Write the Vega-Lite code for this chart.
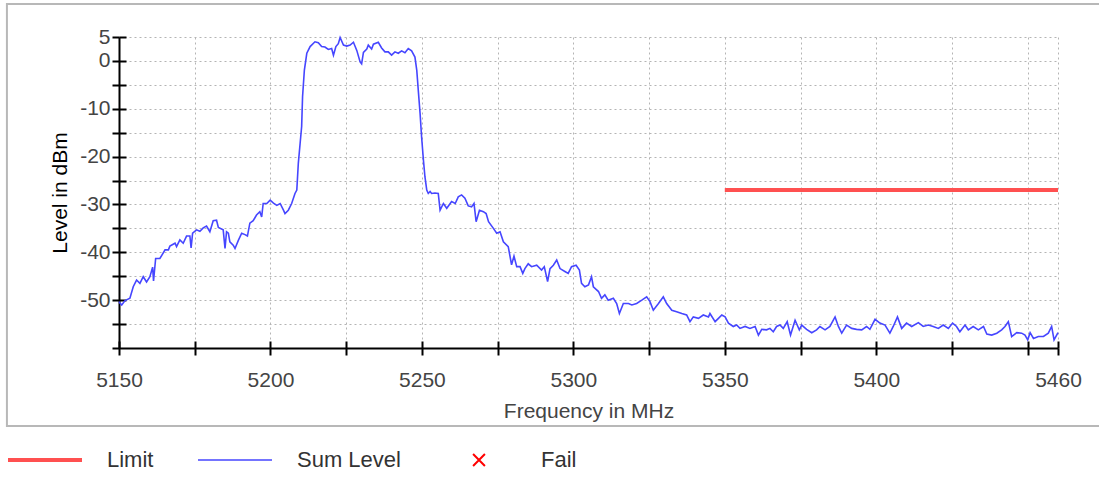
{
  "$schema": "https://vega.github.io/schema/vega-lite/v6.json",
  "width": 939,
  "height": 311,
  "autosize": {"type": "none"},
  "padding": {"left": 119, "top": 37, "right": 41, "bottom": 129},
  "background": "white",
  "config": {
    "view": {"stroke": null},
    "font": "Liberation Sans",
    "axis": {"labelFont": "Liberation Sans", "titleFont": "Liberation Sans"}
  },
  "datasets": {
    "trace": [
      {"f":5150.0,"dB":-50.3},{"f":5150.3,"dB":-50.6},{"f":5150.9,"dB":-51.0},{"f":5152.0,"dB":-50.1},{"f":5153.6,"dB":-49.6},{"f":5154.7,"dB":-47.2},{"f":5155.8,"dB":-45.8},{"f":5156.9,"dB":-46.5},{"f":5158.0,"dB":-45.1},{"f":5159.1,"dB":-46.2},{"f":5160.2,"dB":-45.1},{"f":5161.1,"dB":-43.1},{"f":5161.4,"dB":-46.0},{"f":5162.1,"dB":-41.3},{"f":5163.5,"dB":-41.3},{"f":5165.2,"dB":-39.5},{"f":5166.3,"dB":-39.5},{"f":5166.8,"dB":-38.7},{"f":5168.5,"dB":-38.1},{"f":5169.0,"dB":-38.8},{"f":5170.1,"dB":-37.4},{"f":5171.2,"dB":-38.1},{"f":5172.3,"dB":-36.6},{"f":5173.4,"dB":-36.6},{"f":5173.8,"dB":-39.1},{"f":5174.3,"dB":-36.0},{"f":5175.6,"dB":-35.3},{"f":5176.7,"dB":-35.6},{"f":5177.8,"dB":-34.9},{"f":5178.9,"dB":-34.5},{"f":5180.0,"dB":-35.7},{"f":5181.1,"dB":-33.4},{"f":5182.2,"dB":-33.3},{"f":5182.8,"dB":-34.8},{"f":5184.4,"dB":-35.3},{"f":5185.0,"dB":-39.2},{"f":5185.5,"dB":-35.7},{"f":5186.1,"dB":-36.0},{"f":5186.6,"dB":-37.8},{"f":5187.7,"dB":-38.5},{"f":5188.3,"dB":-39.2},{"f":5189.4,"dB":-37.5},{"f":5190.5,"dB":-36.0},{"f":5191.6,"dB":-36.3},{"f":5192.4,"dB":-36.6},{"f":5193.2,"dB":-33.9},{"f":5194.3,"dB":-33.4},{"f":5195.4,"dB":-32.2},{"f":5196.5,"dB":-31.5},{"f":5197.1,"dB":-32.6},{"f":5197.6,"dB":-29.8},{"f":5198.8,"dB":-29.8},{"f":5199.9,"dB":-29.1},{"f":5201.0,"dB":-29.7},{"f":5202.1,"dB":-30.2},{"f":5203.2,"dB":-29.8},{"f":5204.3,"dB":-31.2},{"f":5204.8,"dB":-31.9},{"f":5205.9,"dB":-31.2},{"f":5207.0,"dB":-29.8},{"f":5208.1,"dB":-27.7},{"f":5208.7,"dB":-27.0},{"f":5209.2,"dB":-21.4},{"f":5209.8,"dB":-17.2},{"f":5210.3,"dB":-13.7},{"f":5210.6,"dB":-7.5},{"f":5211.2,"dB":-1.9},{"f":5212.0,"dB":1.6},{"f":5213.1,"dB":3.0},{"f":5214.7,"dB":4.0},{"f":5215.8,"dB":3.8},{"f":5216.9,"dB":3.0},{"f":5218.0,"dB":2.9},{"f":5219.1,"dB":2.4},{"f":5220.2,"dB":2.6},{"f":5220.8,"dB":1.2},{"f":5221.6,"dB":3.0},{"f":5222.4,"dB":3.6},{"f":5223.0,"dB":4.9},{"f":5224.1,"dB":3.3},{"f":5225.2,"dB":3.1},{"f":5226.3,"dB":3.3},{"f":5227.4,"dB":3.9},{"f":5228.5,"dB":2.2},{"f":5229.6,"dB":-0.2},{"f":5230.1,"dB":-0.6},{"f":5230.7,"dB":1.8},{"f":5231.8,"dB":2.5},{"f":5232.3,"dB":3.3},{"f":5233.4,"dB":2.5},{"f":5234.0,"dB":3.5},{"f":5235.6,"dB":3.9},{"f":5236.7,"dB":2.7},{"f":5237.8,"dB":1.9},{"f":5238.9,"dB":1.9},{"f":5240.0,"dB":1.2},{"f":5241.1,"dB":1.9},{"f":5242.2,"dB":1.6},{"f":5243.3,"dB":2.1},{"f":5244.4,"dB":1.7},{"f":5245.5,"dB":2.6},{"f":5246.6,"dB":2.1},{"f":5247.7,"dB":0.8},{"f":5248.3,"dB":-1.9},{"f":5248.8,"dB":-6.1},{"f":5249.4,"dB":-11.0},{"f":5249.9,"dB":-15.9},{"f":5250.5,"dB":-20.7},{"f":5251.0,"dB":-24.2},{"f":5251.6,"dB":-27.0},{"f":5252.1,"dB":-27.7},{"f":5252.7,"dB":-27.3},{"f":5253.2,"dB":-27.7},{"f":5254.3,"dB":-27.6},{"f":5255.4,"dB":-27.7},{"f":5256.0,"dB":-31.2},{"f":5257.1,"dB":-29.8},{"f":5258.2,"dB":-30.8},{"f":5259.8,"dB":-29.4},{"f":5261.0,"dB":-29.8},{"f":5262.0,"dB":-28.4},{"f":5263.1,"dB":-28.0},{"f":5264.2,"dB":-28.7},{"f":5265.3,"dB":-30.3},{"f":5266.4,"dB":-30.5},{"f":5267.2,"dB":-29.8},{"f":5267.9,"dB":-33.6},{"f":5269.0,"dB":-31.2},{"f":5270.3,"dB":-31.5},{"f":5271.2,"dB":-31.9},{"f":5272.0,"dB":-33.6},{"f":5273.6,"dB":-35.0},{"f":5274.7,"dB":-36.0},{"f":5275.8,"dB":-35.7},{"f":5276.9,"dB":-37.8},{"f":5278.5,"dB":-38.8},{"f":5279.6,"dB":-42.6},{"f":5280.4,"dB":-40.8},{"f":5281.3,"dB":-43.0},{"f":5282.4,"dB":-43.0},{"f":5283.3,"dB":-44.4},{"f":5284.0,"dB":-43.4},{"f":5285.1,"dB":-42.4},{"f":5286.2,"dB":-43.0},{"f":5287.9,"dB":-42.7},{"f":5289.5,"dB":-43.7},{"f":5290.4,"dB":-43.0},{"f":5291.5,"dB":-46.1},{"f":5292.3,"dB":-43.4},{"f":5293.4,"dB":-42.7},{"f":5294.5,"dB":-41.6},{"f":5295.6,"dB":-43.4},{"f":5297.2,"dB":-44.0},{"f":5298.3,"dB":-44.4},{"f":5299.4,"dB":-43.0},{"f":5300.9,"dB":-42.7},{"f":5302.0,"dB":-43.7},{"f":5302.7,"dB":-46.5},{"f":5303.8,"dB":-47.2},{"f":5305.0,"dB":-46.8},{"f":5306.0,"dB":-45.1},{"f":5306.6,"dB":-47.2},{"f":5308.3,"dB":-48.2},{"f":5309.3,"dB":-49.6},{"f":5310.4,"dB":-48.9},{"f":5311.5,"dB":-50.0},{"f":5313.2,"dB":-49.6},{"f":5314.3,"dB":-50.7},{"f":5315.2,"dB":-52.8},{"f":5316.5,"dB":-50.7},{"f":5318.2,"dB":-50.7},{"f":5319.3,"dB":-51.0},{"f":5320.9,"dB":-50.7},{"f":5322.6,"dB":-50.0},{"f":5324.2,"dB":-49.3},{"f":5325.3,"dB":-50.3},{"f":5326.4,"dB":-52.1},{"f":5328.1,"dB":-50.7},{"f":5329.7,"dB":-49.3},{"f":5330.8,"dB":-50.7},{"f":5332.5,"dB":-52.1},{"f":5334.1,"dB":-52.4},{"f":5335.8,"dB":-52.8},{"f":5337.4,"dB":-53.1},{"f":5338.5,"dB":-54.5},{"f":5339.6,"dB":-53.5},{"f":5341.3,"dB":-53.8},{"f":5342.9,"dB":-53.1},{"f":5344.6,"dB":-53.5},{"f":5345.1,"dB":-52.8},{"f":5346.8,"dB":-54.5},{"f":5347.9,"dB":-53.8},{"f":5349.0,"dB":-53.1},{"f":5350.1,"dB":-53.5},{"f":5351.2,"dB":-54.8},{"f":5352.8,"dB":-55.5},{"f":5353.9,"dB":-55.2},{"f":5355.0,"dB":-55.9},{"f":5356.7,"dB":-55.5},{"f":5358.3,"dB":-55.9},{"f":5360.0,"dB":-55.5},{"f":5361.1,"dB":-57.3},{"f":5362.2,"dB":-56.1},{"f":5363.8,"dB":-56.2},{"f":5364.9,"dB":-55.9},{"f":5366.0,"dB":-56.6},{"f":5367.1,"dB":-55.5},{"f":5368.2,"dB":-55.2},{"f":5369.3,"dB":-55.9},{"f":5370.6,"dB":-54.5},{"f":5371.7,"dB":-57.3},{"f":5373.2,"dB":-54.2},{"f":5374.6,"dB":-56.2},{"f":5375.4,"dB":-55.2},{"f":5377.0,"dB":-56.1},{"f":5378.7,"dB":-56.8},{"f":5380.3,"dB":-56.2},{"f":5381.4,"dB":-55.5},{"f":5383.1,"dB":-56.2},{"f":5384.7,"dB":-55.5},{"f":5386.4,"dB":-53.5},{"f":5387.5,"dB":-55.5},{"f":5388.6,"dB":-56.9},{"f":5390.2,"dB":-55.2},{"f":5391.9,"dB":-55.9},{"f":5393.5,"dB":-56.1},{"f":5395.2,"dB":-56.2},{"f":5396.8,"dB":-55.5},{"f":5397.9,"dB":-56.1},{"f":5399.6,"dB":-54.0},{"f":5401.2,"dB":-54.8},{"f":5402.9,"dB":-55.2},{"f":5404.5,"dB":-56.9},{"f":5405.6,"dB":-55.5},{"f":5407.0,"dB":-53.5},{"f":5408.4,"dB":-55.9},{"f":5410.0,"dB":-54.8},{"f":5411.7,"dB":-55.5},{"f":5413.9,"dB":-54.7},{"f":5415.5,"dB":-55.5},{"f":5417.2,"dB":-55.2},{"f":5418.8,"dB":-55.5},{"f":5420.5,"dB":-55.9},{"f":5422.1,"dB":-55.2},{"f":5423.8,"dB":-55.9},{"f":5425.2,"dB":-54.8},{"f":5426.5,"dB":-55.5},{"f":5427.6,"dB":-56.6},{"f":5429.3,"dB":-55.2},{"f":5430.4,"dB":-56.2},{"f":5432.0,"dB":-55.5},{"f":5433.7,"dB":-56.2},{"f":5435.4,"dB":-55.5},{"f":5436.5,"dB":-57.1},{"f":5438.1,"dB":-57.3},{"f":5439.8,"dB":-56.9},{"f":5441.4,"dB":-56.2},{"f":5442.5,"dB":-55.5},{"f":5443.6,"dB":-54.5},{"f":5444.7,"dB":-57.6},{"f":5446.4,"dB":-56.8},{"f":5448.0,"dB":-56.9},{"f":5449.1,"dB":-57.3},{"f":5450.0,"dB":-58.3},{"f":5450.8,"dB":-56.8},{"f":5451.9,"dB":-58.0},{"f":5453.5,"dB":-57.6},{"f":5455.2,"dB":-57.6},{"f":5456.8,"dB":-56.9},{"f":5457.9,"dB":-55.5},{"f":5458.7,"dB":-58.3},{"f":5460.0,"dB":-56.8}
    ],
    "limit": [
      {"f": 5350, "dB": -27, "series": "Limit"},
      {"f": 5460, "dB": -27, "series": "Limit"}
    ]
  },
  "layer": [
    {
      "data": {"values": [{}]},
      "mark": {"type": "rect", "fill": null, "stroke": "#b8b8b8", "strokeWidth": 2, "clip": false},
      "encoding": {
        "x": {"datum": 5113, "type": "quantitative", "scale": {"domain": [5150, 5460], "nice": false, "zero": false}, "axis": null},
        "x2": {"datum": 5478},
        "y": {"datum": 11.9, "type": "quantitative", "scale": {"domain": [-60, 5], "nice": false, "zero": false}, "axis": null},
        "y2": {"datum": -76.3}
      }
    },
    {
      "data": {"name": "trace"},
      "transform": [{"calculate": "'Sum Level'", "as": "series"}],
      "mark": {"type": "line", "strokeWidth": 1.6, "interpolate": "linear"},
      "encoding": {
        "x": {
          "field": "f", "type": "quantitative",
          "scale": {"domain": [5150, 5460], "nice": false, "zero": false},
          "axis": {
            "orient": "bottom",
            "values": [5150, 5175, 5200, 5225, 5250, 5275, 5300, 5325, 5350, 5375, 5400, 5425, 5450, 5460],
            "labelExpr": "((datum.value % 50 === 0 && datum.value < 5450) || datum.value === 5460) ? toString(datum.value) : ''",
            "title": "Frequency in MHz",
            "titleFontSize": 21, "titleFontWeight": "normal", "titleColor": "#444444", "titlePadding": 10,
            "labelFontSize": 21, "labelColor": "#444444", "labelPadding": 14, "labelFlush": false, "labelOverlap": false,
            "domainColor": "#000000", "domainWidth": 2,
            "tickColor": "#000000", "tickWidth": 2, "tickSize": 7,
            "grid": true, "gridColor": "#b4b4b4", "gridDash": [2, 3], "gridWidth": 1
          }
        },
        "y": {
          "field": "dB", "type": "quantitative",
          "scale": {"domain": [-60, 5], "nice": false, "zero": false},
          "axis": {
            "orient": "left",
            "values": [5, 0, -5, -10, -15, -20, -25, -30, -35, -40, -45, -50, -55, -60],
            "labelExpr": "(datum.value === 5 || (datum.value % 10 === 0 && datum.value > -60)) ? toString(datum.value) : ''",
            "title": "Level in dBm",
            "titleFontSize": 21, "titleFontWeight": "normal", "titleColor": "#000000", "titlePadding": 9,
            "labelFontSize": 21, "labelColor": "#444444", "labelPadding": 2, "labelFlush": false, "labelOverlap": false,
            "domainColor": "#000000", "domainWidth": 2,
            "tickColor": "#000000", "tickWidth": 2, "tickSize": 7,
            "grid": true, "gridColor": "#b4b4b4", "gridDash": [2, 3], "gridWidth": 1
          }
        },
        "color": {
          "field": "series", "type": "nominal",
          "scale": {"domain": ["Limit", "Sum Level", "Fail"], "range": ["#ff5050", "#4646ff", "#ff0000"]},
          "legend": {
            "title": null,
            "orient": "none",
            "direction": "horizontal",
            "legendX": -111,
            "legendY": 412,
            "symbolType": "stroke",
            "symbolSize": 5476,
            "symbolStrokeWidth": 4,
            "symbolOffset": 26,
            "labelFontSize": 22,
            "labelColor": "#333333",
            "labelOffset": 51,
            "columnPadding": 41,
            "encode": {
              "symbols": {
                "update": {
                  "shape": {"signal": "datum.value === 'Fail' ? 'M-0.16,-0.16L0.16,0.16M0.16,-0.16L-0.16,0.16' : 'stroke'"},
                  "strokeWidth": {"signal": "datum.value === 'Limit' ? 4 : (datum.value === 'Fail' ? 2 : 1.5)"}
                }
              }
            }
          }
        }
      }
    },
    {
      "data": {"name": "limit"},
      "mark": {"type": "line", "strokeWidth": 4},
      "encoding": {
        "x": {
          "field": "f", "type": "quantitative",
          "scale": {"domain": [5150, 5460], "nice": false, "zero": false},
          "axis": {
            "orient": "bottom",
            "values": [5150, 5175, 5200, 5225, 5250, 5275, 5300, 5325, 5350, 5375, 5400, 5425, 5450, 5460],
            "labels": false, "domain": false, "grid": false, "title": null,
            "tickColor": "#000000", "tickWidth": 2, "tickSize": -7
          }
        },
        "y": {
          "field": "dB", "type": "quantitative",
          "scale": {"domain": [-60, 5], "nice": false, "zero": false},
          "axis": {
            "orient": "left",
            "values": [5, 0, -5, -10, -15, -20, -25, -30, -35, -40, -45, -50, -55],
            "labels": false, "domain": false, "grid": false, "title": null,
            "tickColor": "#000000", "tickWidth": 2, "tickSize": -7
          }
        },
        "color": {"field": "series", "type": "nominal"}
      }
    }
  ],
  "resolve": {"axis": {"x": "independent", "y": "independent"}}
}
